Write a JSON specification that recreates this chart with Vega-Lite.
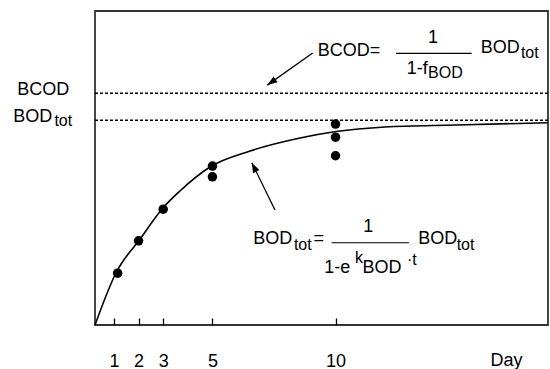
{
  "$schema": "https://vega.github.io/schema/vega-lite/v6.json",
  "width": 453,
  "height": 314,
  "autosize": {"type": "none"},
  "padding": {"left": 95, "top": 11, "right": 2, "bottom": 44},
  "background": "white",
  "config": {
    "view": {"stroke": "#333", "strokeWidth": 1.8},
    "font": "Liberation Sans",
    "text": {"font": "Liberation Sans", "color": "black"}
  },
  "datasets": {
    "curve": [
      {"x": 0.23, "y": 0}, {"x": 1.08, "y": 16.56}, {"x": 2.06, "y": 27.39}, {"x": 2.99, "y": 37.26},
      {"x": 3.68, "y": 42.68}, {"x": 4.9, "y": 50.32}, {"x": 6.53, "y": 55.41}, {"x": 8.56, "y": 59.55},
      {"x": 10.02, "y": 61.62}, {"x": 12.01, "y": 63.06}, {"x": 14.89, "y": 63.69}, {"x": 18.63, "y": 64.43}
    ],
    "points": [
      {"x": 1.15, "y": 16.5}, {"x": 2, "y": 26.8}, {"x": 3, "y": 36.9},
      {"x": 5, "y": 50.6}, {"x": 5, "y": 47.2},
      {"x": 10, "y": 64.0}, {"x": 10, "y": 59.8}, {"x": 10, "y": 53.9}
    ],
    "refs": [
      {"x": 0.23, "x2": 18.63, "y": 73.8, "name": "BCOD"},
      {"x": 0.23, "x2": 18.63, "y": 65.2, "name": "BODtot"}
    ],
    "big": [
      {"x": 9.28, "y": 87.3, "text": "BCOD="},
      {"x": 13.76, "y": 91.4, "text": "1"},
      {"x": 12.89, "y": 81.4, "text": "1-f"},
      {"x": 15.9, "y": 88.2, "text": "BOD"},
      {"x": 6.66, "y": 27.3, "text": "BOD"},
      {"x": 9.1, "y": 27.3, "text": "="},
      {"x": 11.13, "y": 31.3, "text": "1"},
      {"x": 9.54, "y": 18.06, "text": "1-e"},
      {"x": 11.1, "y": 18.15, "text": "BOD"},
      {"x": 13.36, "y": 27.4, "text": "BOD"},
      {"x": -2.93, "y": 74.8, "text": "BCOD"},
      {"x": -3.09, "y": 66.3, "text": "BOD"}
    ],
    "small": [
      {"x": 13.76, "y": 80.2, "text": "BOD"},
      {"x": 17.53, "y": 86.6, "text": "tot"},
      {"x": 8.31, "y": 25.5, "text": "tot"},
      {"x": 10.79, "y": 21.3, "text": "k"},
      {"x": 12.9, "y": 20.7, "text": "·t"},
      {"x": 14.92, "y": 25.5, "text": "tot"},
      {"x": -1.42, "y": 65.0, "text": "tot"}
    ],
    "fracs": [
      {"x": 12.46, "x2": 15.53, "y": 86.5},
      {"x": 9.84, "x2": 12.98, "y": 26.2}
    ],
    "arrows": [
      {"x": 9.07, "y": 86.6, "x2": 7.23, "y2": 76.4},
      {"x": 7.54, "y": 36.6, "x2": 6.6, "y2": 51.7}
    ],
    "heads": [
      {"x": 7.23, "y": 76.4, "id": "a"},
      {"x": 6.6, "y": 51.7, "id": "b"}
    ]
  },
  "encoding": {
    "x": {
      "field": "x", "type": "quantitative",
      "scale": {"domain": [0.23, 18.63], "nice": false, "zero": false},
      "axis": {
        "values": [1, 2, 3, 5, 10],
        "domain": false, "grid": false,
        "tickSize": -7, "tickColor": "black", "tickWidth": 1.3,
        "labelFont": "Liberation Sans", "labelFontSize": 18, "labelColor": "black",
        "labelBaseline": "middle", "labelPadding": 43, "labelFlush": false,
        "title": "Day", "titleFont": "Liberation Sans", "titleFontSize": 18,
        "titleFontWeight": "normal", "titleColor": "black",
        "titleX": 411, "titleY": 35, "titleBaseline": "middle", "titleAlign": "center", "titleAngle": 0
      }
    },
    "y": {"field": "y", "type": "quantitative", "scale": {"domain": [0, 100], "nice": false}, "axis": null}
  },
  "layer": [
    {
      "data": {"name": "curve"},
      "mark": {"type": "line", "color": "black", "strokeWidth": 1.6, "interpolate": "monotone"}
    },
    {
      "data": {"name": "refs"},
      "mark": {"type": "rule", "color": "black", "strokeWidth": 1.3, "strokeDash": [3, 2]},
      "encoding": {"x2": {"field": "x2"}}
    },
    {
      "data": {"name": "points"},
      "mark": {"type": "circle", "color": "black", "opacity": 1, "size": 90}
    },
    {
      "data": {"name": "fracs"},
      "mark": {"type": "rule", "color": "black", "strokeWidth": 1.2},
      "encoding": {"x2": {"field": "x2"}}
    },
    {
      "data": {"name": "arrows"},
      "mark": {"type": "rule", "color": "black", "strokeWidth": 1.3},
      "encoding": {"x2": {"field": "x2"}, "y2": {"field": "y2"}}
    },
    {
      "data": {"name": "heads"},
      "transform": [{"filter": "datum.id === 'a'"}],
      "mark": {"type": "point", "shape": "M0,0 L-0.35,1 L0.35,1 Z", "filled": true, "color": "black", "opacity": 1, "size": 400, "angle": 235, "strokeWidth": 0}
    },
    {
      "data": {"name": "heads"},
      "transform": [{"filter": "datum.id === 'b'"}],
      "mark": {"type": "point", "shape": "M0,0 L-0.35,1 L0.35,1 Z", "filled": true, "color": "black", "opacity": 1, "size": 400, "angle": 334, "strokeWidth": 0}
    },
    {
      "data": {"name": "big"},
      "mark": {"type": "text", "fontSize": 18, "align": "left", "baseline": "middle", "color": "black"},
      "encoding": {"text": {"field": "text"}}
    },
    {
      "data": {"name": "small"},
      "mark": {"type": "text", "fontSize": 16, "align": "left", "baseline": "middle", "color": "black"},
      "encoding": {"text": {"field": "text"}}
    }
  ]
}
